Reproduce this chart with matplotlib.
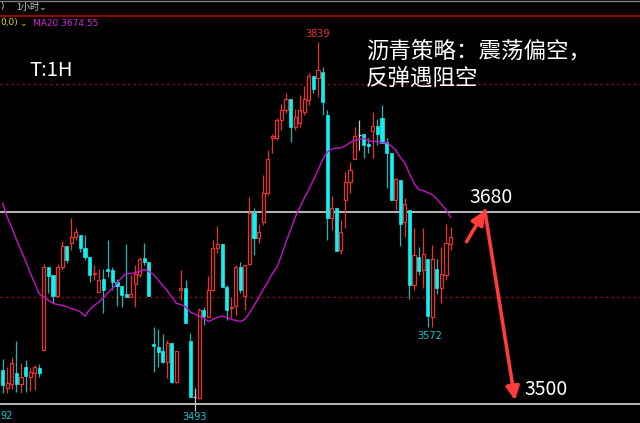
import numpy as np
import matplotlib
matplotlib.use('Agg')
import matplotlib.pyplot as plt

plt.rcParams['font.family'] = ['Noto Sans CJK SC', 'DejaVu Sans']

# 1小时 K线 (沥青)
opens = [3531, 3515, 3518, 3529, 3518, 3534, 3525, 3529, 3533, 3550,
         3628, 3621, 3601, 3628, 3648, 3651, 3656, 3658, 3646, 3638,
         3622, 3605, 3617, 3626, 3625, 3614, 3610, 3603, 3600, 3612,
         3621, 3637, 3633, 3556, 3553, 3549, 3539, 3557, 3520, 3607,
         3608, 3559, 3506, 3505, 3588, 3581, 3607, 3646, 3650, 3609,
         3590, 3592, 3628, 3601, 3631, 3679, 3655, 3670, 3698, 3749,
         3749, 3766, 3776, 3786, 3760, 3763, 3774, 3785, 3808, 3806,
         3811, 3771, 3674, 3684, 3644, 3691, 3708, 3730, 3752, 3753,
         3744, 3756, 3761, 3768, 3746, 3735, 3691, 3710, 3670, 3682,
         3611, 3638, 3625, 3636, 3581, 3626, 3608, 3621, 3650]
highs = [3542, 3534, 3544, 3559, 3538, 3541, 3533, 3536, 3537, 3631,
         3628, 3621, 3631, 3653, 3648, 3674, 3665, 3658, 3658, 3638,
         3630, 3626, 3626, 3654, 3628, 3617, 3610, 3650, 3621, 3630,
         3638, 3651, 3633, 3572, 3570, 3565, 3560, 3557, 3549, 3625,
         3616, 3566, 3515, 3590, 3591, 3620, 3654, 3667, 3650, 3611,
         3600, 3630, 3633, 3630, 3694, 3684, 3669, 3715, 3738, 3753,
         3768, 3781, 3792, 3786, 3777, 3790, 3798, 3810, 3808, 3839,
         3816, 3776, 3695, 3684, 3672, 3717, 3727, 3760, 3766, 3753,
         3749, 3774, 3767, 3780, 3749, 3735, 3712, 3710, 3693, 3682,
         3665, 3647, 3665, 3636, 3649, 3636, 3647, 3669, 3666]
lows = [3510, 3510, 3514, 3511, 3510, 3511, 3512, 3513, 3525, 3550,
        3604, 3594, 3600, 3625, 3632, 3644, 3654, 3642, 3635, 3614,
        3616, 3604, 3585, 3619, 3607, 3592, 3591, 3600, 3600, 3591,
        3619, 3630, 3601, 3530, 3534, 3538, 3524, 3519, 3519, 3597,
        3576, 3506, 3493, 3504, 3574, 3581, 3606, 3641, 3609, 3578,
        3580, 3583, 3604, 3588, 3630, 3639, 3651, 3668, 3696, 3735,
        3747, 3757, 3773, 3746, 3757, 3760, 3771, 3780, 3792, 3788,
        3771, 3654, 3663, 3643, 3640, 3665, 3698, 3730, 3738, 3731,
        3735, 3731, 3743, 3745, 3702, 3691, 3682, 3648, 3656, 3598,
        3607, 3621, 3608, 3572, 3572, 3603, 3594, 3616, 3644]
closes = [3517, 3519, 3538, 3518, 3525, 3526, 3530, 3534, 3529, 3628,
          3620, 3601, 3628, 3648, 3635, 3656, 3661, 3646, 3638, 3621,
          3623, 3616, 3607, 3624, 3614, 3610, 3602, 3600, 3603, 3622,
          3636, 3633, 3601, 3554, 3548, 3539, 3557, 3520, 3549, 3608,
          3576, 3506, 3506, 3588, 3582, 3607, 3646, 3650, 3609, 3588,
          3591, 3628, 3607, 3630, 3679, 3655, 3661, 3698, 3730, 3751,
          3766, 3776, 3786, 3760, 3769, 3776, 3786, 3808, 3795, 3813,
          3783, 3674, 3684, 3643, 3661, 3708, 3719, 3751, 3752, 3743,
          3742, 3761, 3753, 3745, 3735, 3691, 3711, 3669, 3687, 3611,
          3639, 3624, 3640, 3582, 3636, 3608, 3622, 3651, 3656]
ma20 = [3688, 3675, 3665, 3654, 3644, 3634, 3623, 3613, 3603, 3600,
        3597, 3594, 3593, 3592, 3591, 3589, 3588, 3586, 3582, 3588,
        3592, 3595, 3599, 3604, 3608, 3613, 3618, 3622, 3622, 3623,
        3624, 3626, 3624, 3621, 3616, 3611, 3606, 3600, 3594, 3593,
        3591, 3586, 3584, 3582, 3580, 3577, 3579, 3581, 3582, 3581,
        3579, 3578, 3577, 3579, 3585, 3592, 3599, 3607, 3614, 3622,
        3628, 3639, 3652, 3663, 3675, 3684, 3693, 3701, 3710, 3719,
        3729, 3736, 3739, 3740, 3740, 3742, 3745, 3747, 3748, 3749,
        3747, 3746, 3746, 3745, 3745, 3742, 3738, 3731, 3726, 3716,
        3707, 3701, 3700, 3698, 3696, 3692, 3687, 3682, 3675]

grid_levels = [3800, 3600]
drawn_levels = [3680, 3500]
arrow_path = [(101.5, 3652), (105.5, 3681), (112.1, 3503)]

RED = '#e8332c'
CYAN = '#10f0f0'
CYAN_WICK = '#18b8b8'

fig = plt.figure(figsize=(6.4, 4.23), dpi=100, facecolor='black')
ax = fig.add_axes([0, 0, 1, 1], facecolor='black')
ax.set_xlim(-0.59, 139.45)
ax.set_ylim(3481.7, 3878.9)
ax.axis('off')

for lv in grid_levels:
    ax.axhline(lv, color='#9a1010', lw=1.0, ls=(0, (1.5, 2.5)), zorder=1)
for lv in drawn_levels:
    ax.axhline(lv, color='#b8b8b8', lw=1.4, zorder=1)

o = np.array(opens)
h = np.array(highs)
l = np.array(lows)
c = np.array(closes)
x = np.arange(len(o))
up = c > o
down = c < o
flat = c == o

ax.vlines(x[up], l[up], h[up], color=RED, lw=0.9, zorder=2)
ax.vlines(x[down], l[down], h[down], color=CYAN_WICK, lw=0.9, zorder=2)
ax.vlines(x[flat], l[flat], h[flat], color='#c8c8c8', lw=0.9, zorder=2)

w = 0.68
ax.bar(x[up], (c - o)[up], bottom=o[up], width=w, facecolor='black',
       edgecolor=RED, lw=0.9, zorder=3)
ax.bar(x[down], (o - c)[down], bottom=c[down], width=w, facecolor=CYAN,
       edgecolor=CYAN, lw=0.5, zorder=3)
ax.hlines(o[flat], x[flat] - w / 2, x[flat] + w / 2, color='#c8c8c8', lw=0.9, zorder=3)

ax.plot(x, ma20, color='#c810c8', lw=1.0, zorder=4)

# arrows
(x0, y0), (x1, y1), (x2, y2) = arrow_path
arw = dict(arrowstyle='-|>', color='#ff3b3b', lw=2.6, mutation_scale=20,
           shrinkA=0, shrinkB=0)
ax.annotate('', xy=(x1, y1), xytext=(x0, y0), arrowprops=arw, zorder=6)
ax.annotate('', xy=(x2, y2), xytext=(x1, y1), arrowprops=arw, zorder=6)

# labels
ax.text(69, 3842, '3839', color=RED, fontsize=7, ha='center', va='bottom',
        family='DejaVu Sans')
ax.text(42, 3487, '3493', color='#18c8d0', fontsize=7, ha='center', va='center',
        family='DejaVu Sans')
ax.text(93.5, 3568, '3572', color='#18c8d0', fontsize=7, ha='center', va='top',
        family='DejaVu Sans')
fig.text(0 / 640, 1 - 416 / 423, '92', color='#18c8d0', fontsize=7, ha='left',
         va='center', family='DejaVu Sans')

ax.text(106.8, 3684, '3680', color='white', fontsize=14, ha='center', va='bottom')
ax.text(119, 3503, '3500', color='white', fontsize=14, ha='center', va='bottom')

fig.text(29 / 640, 1 - 70 / 423, 'T:1H', color='white', fontsize=14.5, va='center')
fig.text(366 / 640, 1 - 51 / 423, '沥青策略：震荡偏空，', color='white',
         fontsize=16.2, va='center')
fig.text(366 / 640, 1 - 79 / 423, '反弹遇阻空', color='white',
         fontsize=16.2, va='center')

# header
ax.plot([0, 1], [1 - 16 / 423] * 2, color='#b00000', lw=1.2,
        transform=ax.transAxes, zorder=5)
ax.plot([0, 1], [1 - 0.8 / 423] * 2, color='#808080', lw=1.0,
        transform=ax.transAxes, zorder=5)
fig.text(0.5 / 640, 1 - 7 / 423, ')', color='#d0d0d0', fontsize=6.5, va='center',
         family='DejaVu Sans')
fig.text(16 / 640, 1 - 7 / 423, '1小时⌄', color='#d0d0d0', fontsize=6.5, va='center')
fig.text(0 / 640, 1 - 23 / 423, '0,0)', color='#d8d800', fontsize=6.5, va='center',
         family='DejaVu Sans')
fig.text(19 / 640, 1 - 23 / 423, '⌄', color='#d8d800', fontsize=6.5, va='center',
         family='DejaVu Sans')
fig.text(33 / 640, 1 - 23 / 423, 'MA20 3674.55', color='#e020e0', fontsize=6.5,
         va='center', family='DejaVu Sans')

fig.savefig('out.png', dpi=100, facecolor='black')
